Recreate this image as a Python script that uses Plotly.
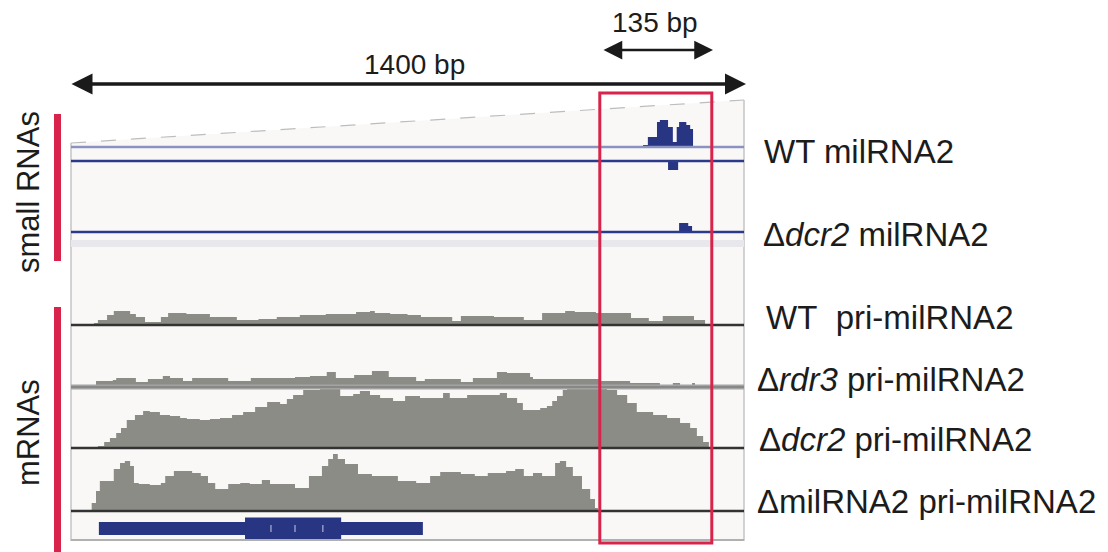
import plotly.graph_objects as go

W, H = 1108, 552
def px(x): return x / W
def py(y): return 1 - y / H

# ---------------- data (genomic position in bp, coverage in scaled read units) ----------------
region_bp = [0, 1400]
highlight_bp = [1100, 1333]

wt_small_pos = [1190, 1200, 1219, 1225, 1242, 1252, 1260, 1265, 1280, 1288, 1294]
wt_small_val = [2, 10, 25, 27, 20, 5, 20, 25, 22, 18, 0]
wt_small_minus_pos = [1242, 1263]
wt_small_minus_val = [9, 0]
dcr2_small_pos = [1265, 1284, 1292]
dcr2_small_val = [9, 6, 0]

wt_pri_pos = [48, 56, 75, 89, 123, 135, 154, 187, 202, 240, 289, 345, 390, 428, 476, 530,
              593, 622, 632, 664, 700, 728, 793, 811, 880, 942, 980, 1028, 1048, 1092,
              1165, 1202, 1231, 1296, 1319]
wt_pri_val = [2, 5, 10, 14, 11, 8, 3, 8, 12, 11, 8, 5, 6, 8, 10, 11,
              13, 14, 12, 11, 10, 8, 4, 9, 8, 5, 12, 14, 13, 12,
              7, 4, 9, 5, 0]

rdr3_pri_pos = [52, 87, 94, 135, 160, 191, 206, 233, 252, 327, 374, 466, 497, 532, 551, 589,
                626, 661, 718, 736, 811, 836, 886, 907, 955, 961, 1100, 1163, 1225, 1252,
                1267, 1292, 1298]
rdr3_pri_val = [6, 7, 9, 5, 8, 11, 9, 6, 9, 6, 9, 10, 11, 15, 9, 12,
                16, 10, 6, 8, 5, 9, 15, 14, 10, 8, 6, 4, 0, 4,
                0, 4, 0]

dcr2_pri_pos = [56, 69, 81, 94, 104, 116, 133, 150, 164, 185, 206, 227, 241, 268, 289, 310,
                335, 358, 383, 408, 435, 449, 462, 483, 518, 539, 553, 560, 587, 601, 622,
                643, 670, 695, 726, 774, 788, 824, 892, 907, 928, 940, 976, 990, 1001, 1011,
                1023, 1032, 1094, 1115, 1136, 1157, 1177, 1211, 1240, 1267, 1288, 1302,
                1315, 1327]
dcr2_pri_val = [2, 6, 10, 15, 20, 28, 33, 37, 36, 33, 32, 30, 29, 28, 29, 30,
                33, 36, 41, 46, 44, 49, 53, 58, 60, 63, 60, 52, 54, 57, 53,
                50, 47, 52, 50, 55, 50, 53, 55, 50, 45, 38, 40, 42, 47, 52,
                58, 61, 60, 58, 53, 45, 36, 33, 30, 25, 20, 12,
                6, 0]

dmil_pri_pos = [43, 52, 60, 75, 89, 102, 112, 123, 131, 141, 164, 187, 196, 214, 252, 270,
                285, 300, 327, 352, 372, 397, 414, 466, 495, 522, 535, 545, 555, 570, 597,
                626, 680, 718, 747, 768, 811, 840, 867, 905, 924, 942, 961, 980, 1007,
                1017, 1030, 1044, 1063, 1080, 1090, 1096]
dmil_pri_val = [8, 20, 30, 30, 42, 48, 50, 45, 28, 27, 26, 28, 35, 40, 38, 35,
                28, 22, 27, 28, 27, 31, 27, 23, 35, 45, 52, 57, 52, 47, 37,
                35, 30, 28, 35, 39, 37, 35, 38, 40, 42, 35, 38, 35, 48,
                50, 44, 35, 22, 12, 3, 0]

gene_utr_bp = [58, 732]
gene_cds_bp = [362, 562]
gene_marks_bp = [416, 466, 524]

track_labels = ["WT milRNA2", "Δ<i>dcr2</i> milRNA2", "WT\u00a0 pri-milRNA2",
                "Δ<i>rdr3</i> pri-milRNA2", "Δ<i>dcr2</i> pri-milRNA2", "ΔmilRNA2 pri-milRNA2"]
group_labels = ["small RNAs", "mRNAs"]
scale_labels = ["1400 bp", "135 bp"]

# ---------------- styles ----------------
NAVY = "#283583"
GREY = "#8c8c87"
RED = "#d8234b"
TXT = "#1c1c1c"
FONT = "Liberation Sans, Arial, sans-serif"
PAD = 4  # px of room below each baseline so the baseline is not clipped

fig = go.Figure()

def cov(xs, ys, yaxis, color):
    fig.add_trace(go.Scatter(x=xs, y=ys, xaxis="x", yaxis=yaxis, mode="lines",
                             line=dict(width=0, shape="hv", color=color),
                             fill="tozeroy", fillcolor=color, hoverinfo="skip",
                             showlegend=False))

cov(wt_small_pos, wt_small_val, "y", NAVY)
cov(wt_small_minus_pos, wt_small_minus_val, "y2", NAVY)
cov(dcr2_small_pos, dcr2_small_val, "y3", NAVY)
cov(wt_pri_pos, wt_pri_val, "y4", GREY)
cov(rdr3_pri_pos, rdr3_pri_val, "y5", GREY)
cov(dcr2_pri_pos, dcr2_pri_val, "y6", GREY)
cov(dmil_pri_pos, dmil_pri_val, "y7", GREY)

# gene model
gene_row = 12.5
fig.add_trace(go.Bar(x=[gene_utr_bp[1] - gene_utr_bp[0]], base=[gene_utr_bp[0]], y=[gene_row],
                     orientation="h", width=[13], marker=dict(color=NAVY, line=dict(width=0)),
                     xaxis="x", yaxis="y8", showlegend=False, hoverinfo="skip"))
fig.add_trace(go.Bar(x=[gene_cds_bp[1] - gene_cds_bp[0]], base=[gene_cds_bp[0]], y=[gene_row],
                     orientation="h", width=[22], marker=dict(color=NAVY, line=dict(width=0)),
                     xaxis="x", yaxis="y8", showlegend=False, hoverinfo="skip"))
fig.add_trace(go.Scatter(x=gene_marks_bp, y=[gene_row] * len(gene_marks_bp), xaxis="x", yaxis="y8",
                         mode="markers", marker=dict(symbol="line-ns", size=5,
                                                     line=dict(color="#c8cbe0", width=1)),
                         showlegend=False, hoverinfo="skip"))

def yax(top, base):
    # baseline at pixel row `base`, track extends up to pixel row `top`
    return dict(domain=[py(base + PAD), py(top)], range=[-PAD, base - top], visible=False,
                anchor="x", fixedrange=True)

def yax_down(base, bottom):
    # downward-drawn (minus strand) track: baseline at `base`, grows down to `bottom`
    return dict(domain=[py(bottom), py(base - PAD)], range=[bottom - base, -PAD], visible=False,
                anchor="x", fixedrange=True)

layout = dict(
    width=W, height=H, margin=dict(l=0, r=0, t=0, b=0),
    paper_bgcolor="white", plot_bgcolor="rgba(0,0,0,0)",
    showlegend=False, barmode="overlay",
    xaxis=dict(domain=[px(71), px(744)], range=region_bp, visible=False, fixedrange=True),
    yaxis=yax(112, 147),
    yaxis2=yax_down(161, 181),
    yaxis3=yax(197, 232),
    yaxis4=yax(263, 325),
    yaxis5=yax(325, 387),
    yaxis6=yax(386, 448),
    yaxis7=yax(449, 511),
    yaxis8=dict(domain=[py(541), py(513)], range=[0, 28], visible=False, anchor="x", fixedrange=True),
)
fig.update_layout(**layout)

shapes = []
# panel background with perspective top edge
shapes.append(dict(type="path", xref="paper", yref="paper", layer="below",
                   path=f"M{px(71)},{py(143)} L{px(744)},{py(100)} L{px(744)},{py(541)} L{px(71)},{py(541)} Z",
                   fillcolor="#f9f8f6", line=dict(width=0)))
shapes.append(dict(type="line", xref="paper", yref="paper", x0=px(71), y0=py(143), x1=px(744), y1=py(100),
                   line=dict(color="#bdbdbd", width=1.2, dash="longdash"), layer="below"))
shapes.append(dict(type="line", xref="paper", yref="paper", x0=px(71), y0=py(143), x1=px(71), y1=py(541),
                   line=dict(color="#c4c4c4", width=1.5), layer="below"))
shapes.append(dict(type="line", xref="paper", yref="paper", x0=px(744), y0=py(100), x1=px(744), y1=py(541),
                   line=dict(color="#c4c4c4", width=1.5), layer="below"))
# light band under small RNA tracks
shapes.append(dict(type="rect", xref="x", yref="paper", x0=region_bp[0], x1=region_bp[1],
                   y0=py(247), y1=py(240), fillcolor="#e7e7ec", line=dict(width=0), layer="below"))

def baseline(yref, color, width):
    shapes.append(dict(type="line", xref="x", yref=yref, x0=region_bp[0], x1=region_bp[1], y0=0, y1=0,
                       line=dict(color=color, width=width)))

baseline("y", "#8a92c2", 2.5)
baseline("y2", "#2c3a8c", 2.5)
baseline("y3", "#2c3a8c", 2.5)
baseline("y4", "#333333", 2.5)
baseline("y5", "#a3a3a3", 5)
baseline("y5", "#6e6e6e", 1.2)
baseline("y6", "#333333", 2.5)
baseline("y7", "#333333", 2.5)
shapes.append(dict(type="line", xref="x", yref="paper", x0=region_bp[0], x1=region_bp[1],
                   y0=py(540), y1=py(540), line=dict(color="#b0b0b0", width=2)))

# highlight box
shapes.append(dict(type="rect", xref="x", yref="paper", x0=highlight_bp[0], x1=highlight_bp[1],
                   y0=py(543), y1=py(93), line=dict(color=RED, width=3), fillcolor="rgba(0,0,0,0)"))
# group bars
shapes.append(dict(type="rect", xref="paper", yref="paper", x0=px(54), x1=px(61), y0=py(261), y1=py(114),
                   fillcolor=RED, line=dict(width=0)))
shapes.append(dict(type="rect", xref="paper", yref="paper", x0=px(54), x1=px(61), y0=py(552), y1=py(307),
                   fillcolor=RED, line=dict(width=0)))
fig.update_layout(shapes=shapes)

ann = []
# scale arrows
ann.append(dict(x=px(746), y=py(84), xref="paper", yref="paper", ax=-(746 - 70), ay=0,
                axref="pixel", ayref="pixel", showarrow=True, arrowhead=2, arrowside="end+start",
                arrowwidth=3.5, arrowsize=1.2, arrowcolor="#1a1a1a", text="", standoff=0, startstandoff=0))
ann.append(dict(x=px(713), y=py(50), xref="paper", yref="paper", ax=-(713 - 602), ay=0,
                axref="pixel", ayref="pixel", showarrow=True, arrowhead=2, arrowside="end+start",
                arrowwidth=2.5, arrowsize=1.5, arrowcolor="#1a1a1a", text="", standoff=0, startstandoff=0))
ann.append(dict(x=px(414), y=py(65), xref="paper", yref="paper", text=scale_labels[0], showarrow=False,
                font=dict(family=FONT, size=28, color=TXT), xanchor="center", yanchor="middle"))
ann.append(dict(x=px(655), y=py(23), xref="paper", yref="paper", text=scale_labels[1], showarrow=False,
                font=dict(family=FONT, size=28, color=TXT), xanchor="center", yanchor="middle"))

label_y = [151, 234, 317, 379, 439, 501]
label_x = [762, 761, 764, 755, 757, 755]
for t, xx, yy in zip(track_labels, label_x, label_y):
    ann.append(dict(x=px(xx), y=py(yy), xref="paper", yref="paper", text=t, showarrow=False,
                    font=dict(family=FONT, size=33, color=TXT), xanchor="left", yanchor="middle"))

ann.append(dict(x=px(28), y=py(192), xref="paper", yref="paper", text=group_labels[0], showarrow=False,
                textangle=-90, font=dict(family=FONT, size=31, color=TXT), xanchor="center", yanchor="middle"))
ann.append(dict(x=px(28), y=py(432), xref="paper", yref="paper", text=group_labels[1], showarrow=False,
                textangle=-90, font=dict(family=FONT, size=31, color=TXT), xanchor="center", yanchor="middle"))
fig.update_layout(annotations=ann)

fig.write_html("out.html", config={"displayModeBar": False},
               post_script="document.body.style.margin='0';document.body.style.overflow='hidden';")
